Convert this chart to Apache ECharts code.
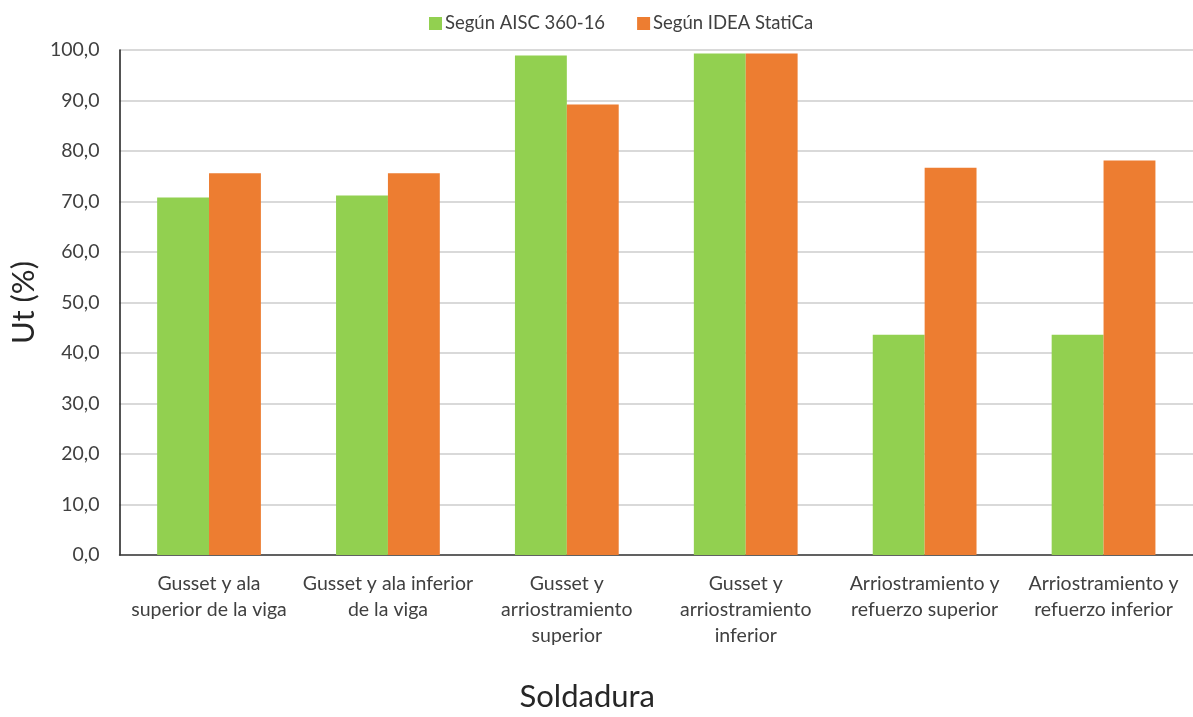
<!DOCTYPE html>
<html>
<head>
<meta charset="utf-8">
<script src="https://cdn.jsdelivr.net/npm/echarts@6/dist/echarts.min.js"></script>
<style>
  html, body { margin: 0; padding: 0; background: #fff; }
  #chart { width: 1193px; height: 717px; }
</style>
</head>
<body>
<div id="chart"></div>
<script>
// Weld groups on the x axis
var categories = [
  'Gusset y ala\nsuperior de la viga',
  'Gusset y ala inferior\nde la viga',
  'Gusset y\narriostramiento\nsuperior',
  'Gusset y\narriostramiento\ninferior',
  'Arriostramiento y\nrefuerzo superior',
  'Arriostramiento y\nrefuerzo inferior'
];

// Utilisation ratios (%)
var aiscValues  = [70.8, 71.2, 98.9, 99.3, 43.6, 43.6];
var ideaValues  = [75.6, 75.6, 89.2, 99.3, 76.7, 78.1];

var seriesNames = ['Según AISC 360-16', 'Según IDEA StatiCa'];
var seriesColors = ['#92D050', '#ED7D31'];

var font = 'Lato, "Open Sans", sans-serif';

var chart = echarts.init(document.getElementById('chart'), null, { renderer: 'canvas' });

chart.setOption({
  animation: false,
  backgroundColor: '#ffffff',
  textStyle: { fontFamily: font },
  legend: {
    top: 9,
    left: 424,
    itemWidth: 13,
    itemHeight: 13,
    itemGap: 32,
    icon: 'rect',
    textStyle: { fontSize: 18.5, color: '#404040', fontFamily: font, padding: [0, 0, 0, -2] },
    data: seriesNames
  },
  grid: {
    left: 117,
    right: 0,
    top: 50,
    bottom: 153,
    containLabel: false
  },
  xAxis: {
    type: 'category',
    data: categories,
    name: 'Soldadura',
    nameLocation: 'middle',
    nameGap: 126,
    // extra right padding moves the title left, toward the page centre
    nameTextStyle: { fontSize: 31, color: '#262626', fontFamily: font, padding: [0, 138, 0, 0] },
    axisLine: { lineStyle: { color: '#3a3a3a', width: 1.5 } },
    axisTick: { show: false },
    axisLabel: {
      interval: 0,
      margin: 16,
      fontSize: 19.5,
      lineHeight: 26,
      color: '#404040',
      fontFamily: font
    }
  },
  yAxis: {
    type: 'value',
    min: 0,
    max: 100,
    interval: 10,
    name: 'Ut (%)',
    nameLocation: 'middle',
    nameGap: 68,
    nameRotate: 90,
    nameTextStyle: { fontSize: 31, color: '#262626', fontFamily: font },
    axisLine: { show: true, lineStyle: { color: '#1a1a1a', width: 1.5 } },
    axisTick: { show: false },
    axisLabel: {
      margin: 20,
      fontSize: 19.5,
      color: '#404040',
      fontFamily: font,
      formatter: function (v) { return v.toFixed(1).replace('.', ','); }
    },
    splitLine: { lineStyle: { color: '#d9d9d9', width: 2 } }
  },
  series: [
    {
      name: seriesNames[0],
      type: 'bar',
      data: aiscValues,
      barGap: '0%',
      barCategoryGap: '42%',
      itemStyle: { color: seriesColors[0] }
    },
    {
      name: seriesNames[1],
      type: 'bar',
      data: ideaValues,
      barGap: '0%',
      barCategoryGap: '42%',
      itemStyle: { color: seriesColors[1] }
    }
  ]
});
</script>
</body>
</html>
